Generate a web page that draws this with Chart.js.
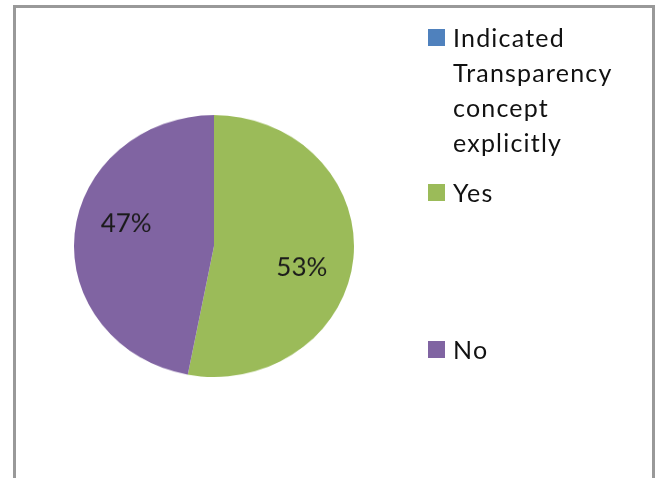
<!DOCTYPE html>
<html>
<head>
<meta charset="utf-8">
<script src="https://cdn.jsdelivr.net/npm/chart.js@4"></script>
<style>
  body { margin: 0; background: #fff; width: 655px; height: 478px; overflow: hidden; position: relative; font-family: Lato, sans-serif; }
  #frame { position: absolute; left: 13px; top: 5px; width: 636px; height: 520px; border: 3px solid #999; }
  #pie { position: absolute; left: 0; top: 0; }
  #legend { position: absolute; left: 428px; top: 0; width: 222px; margin: 0; padding: 0; list-style: none; color: #111; font-size: 25px; line-height: 35px; letter-spacing: 1.2px; }
  #legend li { position: absolute; left: 0; display: flex; align-items: flex-start; width: 222px; }
  #legend li span.box { flex: none; width: 17px; height: 17px; margin-top: 9px; margin-right: 8px; }
  #legend li span.txt { width: 190px; }
  #legend li:nth-child(1) { top: 20px; }
  #legend li:nth-child(2) { top: 175px; }
  #legend li:nth-child(3) { top: 332px; }
</style>
</head>
<body>
<div id="frame"></div>
<!-- drawn 511px tall and squeezed to 478px, so the pie comes out slightly oval -->
<canvas id="pie" width="655" height="511" style="width:655px;height:478px"></canvas>
<ul id="legend"></ul>
<script>
var categories = ["Indicated Transparency concept explicitly", "Yes", "No"];
var percents = [0, 53, 47];
var sliceColors = ["#4F81BD", "#9BBB59", "#8064A2"];

// legend on the right, one entry per category
var legendEl = document.getElementById("legend");
for (var i = 0; i < categories.length; i++) {
    var li = document.createElement("li");
    var box = document.createElement("span");
    box.className = "box";
    box.style.background = sliceColors[i];
    var txt = document.createElement("span");
    txt.className = "txt";
    txt.textContent = categories[i];
    li.appendChild(box);
    li.appendChild(txt);
    legendEl.appendChild(li);
}

// percent text inside each slice
var percentLabels = {
    id: "percentLabels",
    afterDatasetsDraw: function (chart) {
        var ctx = chart.ctx;
        var meta = chart.getDatasetMeta(0);
        var values = chart.data.datasets[0].data;
        ctx.save();
        ctx.font = "26px Lato";
        ctx.fillStyle = "#1a1a1a";
        ctx.textAlign = "center";
        ctx.textBaseline = "middle";
        meta.data.forEach(function (arc, i) {
            if (!values[i]) return;
            var p = arc.getProps(["x", "y", "startAngle", "endAngle", "outerRadius"]);
            var mid = (p.startAngle + p.endAngle) / 2 + 0.17;
            var r = p.outerRadius * 0.65;
            ctx.fillText(values[i] + "%", p.x + Math.cos(mid) * r, p.y + Math.sin(mid) * r);
        });
        ctx.restore();
    }
};

var pieChart = new Chart(document.getElementById("pie"), {
    type: "pie",
    data: {
        labels: categories,
        datasets: [{
            data: percents,
            backgroundColor: sliceColors,
            borderWidth: 0
        }]
    },
    options: {
        responsive: false,
        animation: false,
        layout: {
            padding: { left: 74, right: 301, top: 123, bottom: 108 }
        },
        plugins: {
            legend: { display: false },
            tooltip: { enabled: false }
        }
    },
    plugins: [percentLabels]
});
</script>
</body>
</html>
